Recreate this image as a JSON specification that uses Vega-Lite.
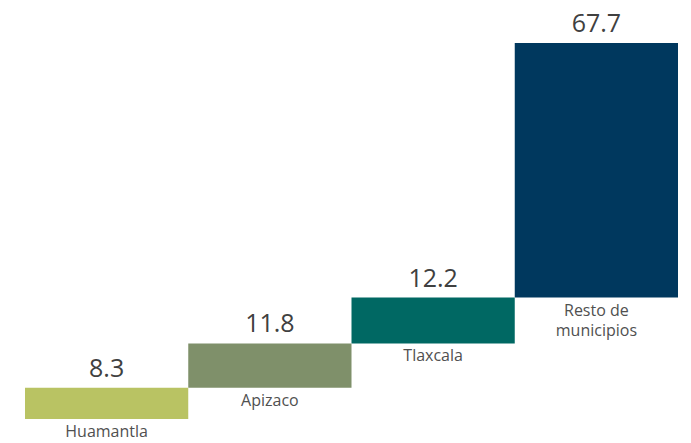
{
  "$schema": "https://vega.github.io/schema/vega-lite/v6.json",
  "width": 653,
  "height": 376,
  "autosize": "none",
  "padding": {"left": 25, "top": 43, "right": 13, "bottom": 24},
  "background": "white",
  "config": {"view": {"stroke": null}},
  "data": {
    "values": [
      {"name": "Huamantla", "label": ["Huamantla"], "value": 8.3, "start": 0, "end": 8.3},
      {"name": "Apizaco", "label": ["Apizaco"], "value": 11.8, "start": 8.3, "end": 20.1},
      {"name": "Tlaxcala", "label": ["Tlaxcala"], "value": 12.2, "start": 20.1, "end": 32.3},
      {"name": "Resto de municipios", "label": ["Resto de", "municipios"], "value": 67.7, "start": 32.3, "end": 100}
    ]
  },
  "encoding": {
    "x": {"field": "name", "type": "nominal", "sort": null, "axis": null, "scale": {"paddingInner": 0, "paddingOuter": 0}}
  },
  "layer": [
    {
      "mark": {"type": "bar"},
      "encoding": {
        "y": {"field": "start", "type": "quantitative", "scale": {"domain": [0, 100]}, "axis": null},
        "y2": {"field": "end"},
        "color": {"field": "name", "type": "nominal", "sort": null, "legend": null,
          "scale": {"range": ["#B9C363", "#7F906A", "#006863", "#00385E"]}}
      }
    },
    {
      "mark": {"type": "text", "baseline": "alphabetic", "dy": -11, "fontSize": 25, "font": "Open Sans", "color": "#404040"},
      "encoding": {
        "y": {"field": "end", "type": "quantitative"},
        "text": {"field": "value", "type": "quantitative", "format": ".1f"}
      }
    },
    {
      "mark": {"type": "text", "baseline": "top", "dy": 5, "fontSize": 16, "font": "Open Sans", "color": "#505050", "lineHeight": 20, "letterSpacing": 1},
      "encoding": {
        "y": {"field": "start", "type": "quantitative"},
        "text": {"field": "label", "type": "nominal"}
      }
    }
  ]
}
